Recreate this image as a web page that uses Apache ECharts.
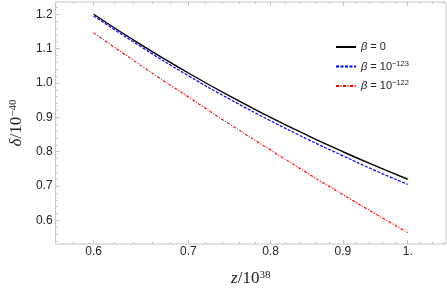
<!DOCTYPE html>
<html><head><meta charset="utf-8">
<script src="https://cdn.jsdelivr.net/npm/echarts@6/dist/echarts.min.js"></script>
<style>html,body{margin:0;padding:0;background:#fff}#c{width:447px;height:292px}</style>
</head><body><div id="c"></div>
<script>
// data
const zValues = [0.6, 0.65, 0.7, 0.75, 0.8, 0.85, 0.9, 0.95, 1.0];
const beta0 = [1.200, 1.108, 1.029, 0.960, 0.900, 0.847, 0.800, 0.758, 0.720];
const beta123 = [1.195, 1.102, 1.021, 0.951, 0.890, 0.836, 0.788, 0.744, 0.705];
const beta122 = [1.146, 1.047, 0.959, 0.878, 0.805, 0.737, 0.675, 0.618, 0.565];
const seriesNames = ['β = 0', 'β = 10−123', 'β = 10−122'];
const xMajorTicks = [0.6, 0.7, 0.8, 0.9, 1.0];
const xMinorTicks = [0.58, 0.62, 0.64, 0.66, 0.68, 0.72, 0.74, 0.76, 0.78, 0.82, 0.84, 0.86, 0.88, 0.92, 0.94, 0.96, 0.98, 1.02, 1.04, 1.06];
const yMajorTicks = [0.6, 0.7, 0.8, 0.9, 1.0, 1.1, 1.2];
const yMinorTicks = [0.54, 0.56, 0.58, 0.62, 0.64, 0.66, 0.68, 0.72, 0.74, 0.76, 0.78, 0.82, 0.84, 0.86, 0.88, 0.92, 0.94, 0.96, 0.98, 1.02, 1.04, 1.06, 1.08, 1.12, 1.14, 1.16, 1.18, 1.22];

const X_MIN = 0.564, X_MAX = 1.0642, Y_MIN = 0.5316, Y_MAX = 1.2356;
const tickColor = '#c4c4c4';
const labelFont = 'Liberation Sans';

function zip(xs, ys) { return xs.map((x, i) => [x, ys[i]]); }

function xAxisBase(extra) {
  return Object.assign({
    type: 'log', logBase: 10, min: X_MIN, max: X_MAX,
    axisLine: { show: false }, splitLine: { show: false }, minorTick: { show: false },
    axisLabel: { show: false }
  }, extra);
}
function yAxisBase(extra) {
  return Object.assign({
    type: 'value', min: Y_MIN, max: Y_MAX,
    axisLine: { show: false }, splitLine: { show: false }, minorTick: { show: false },
    axisLabel: { show: false }
  }, extra);
}

const chart = echarts.init(document.getElementById('c'), null, { renderer: 'canvas' });
chart.setOption({
  animation: false,
  backgroundColor: '#fff',
  grid: { left: 46, right: 1, top: 2, bottom: 43, show: true, borderColor: tickColor, borderWidth: 1, backgroundColor: 'transparent' },
  xAxis: [
    xAxisBase({
      position: 'bottom',
      name: '{i|z}/10{s|38}', nameLocation: 'middle', nameGap: 26,
      nameTextStyle: {
        fontFamily: 'Liberation Serif', fontSize: 17, color: '#222',
        rich: { i: { fontFamily: 'Liberation Serif', fontStyle: 'italic', fontSize: 17, color: '#222' },
                s: { fontFamily: 'Liberation Serif', fontSize: 11, verticalAlign: 'top', lineHeight: 10, color: '#222' } }
      },
      axisTick: { show: true, inside: true, length: 4, customValues: xMajorTicks, lineStyle: { color: tickColor } },
      axisLabel: { show: true, customValues: xMajorTicks, margin: 2, fontFamily: labelFont, fontSize: 12, color: '#222',
        formatter: v => (Math.abs(v - 1) < 1e-9 ? '1.' : Number(v).toFixed(1)) }
    }),
    xAxisBase({ position: 'bottom', axisTick: { show: true, inside: true, length: 2, customValues: xMinorTicks, lineStyle: { color: tickColor } } }),
    xAxisBase({ position: 'top', axisTick: { show: true, inside: true, length: 4, customValues: xMajorTicks, lineStyle: { color: tickColor } } }),
    xAxisBase({ position: 'top', axisTick: { show: true, inside: true, length: 2, customValues: xMinorTicks, lineStyle: { color: tickColor } } })
  ],
  yAxis: [
    yAxisBase({
      position: 'left',
      name: '{i|δ}/10{s|−40}', nameLocation: 'middle', nameGap: 22, nameRotate: 90,
      nameTextStyle: {
        fontFamily: 'Liberation Serif', fontSize: 17, color: '#222',
        rich: { i: { fontFamily: 'Liberation Serif', fontStyle: 'italic', fontSize: 17, color: '#222' },
                s: { fontFamily: 'Liberation Serif', fontSize: 11, verticalAlign: 'top', lineHeight: 10, color: '#222' } }
      },
      axisTick: { show: true, inside: true, length: 4, customValues: yMajorTicks, lineStyle: { color: tickColor } },
      axisLabel: { show: true, customValues: yMajorTicks, margin: 3, fontFamily: labelFont, fontSize: 12, color: '#222',
        formatter: v => Number(v).toFixed(1) }
    }),
    yAxisBase({ position: 'left', axisTick: { show: true, inside: true, length: 2, customValues: yMinorTicks, lineStyle: { color: tickColor } } })
  ],
  legend: {
    orient: 'vertical', left: 330, top: 35,
    itemWidth: 20, itemHeight: 14, itemGap: 5.5, itemTextGap: 4,
    data: seriesNames,
    itemStyle: { color: 'transparent', borderColor: 'transparent', borderWidth: 0, opacity: 0 },
    formatter: name => name.replace('β', '{i|β}').replace(/10(−\d+)/, '10{s|$1}'),
    textStyle: {
      fontFamily: labelFont, fontSize: 11, color: '#222', lineHeight: 14,
      rich: { i: { fontFamily: labelFont, fontStyle: 'italic', fontSize: 11, lineHeight: 14, color: '#222' },
              s: { fontFamily: labelFont, fontSize: 7.5, lineHeight: 8, verticalAlign: 'top', color: '#222' } }
    }
  },
  series: [
    { name: seriesNames[0], type: 'line', data: zip(zValues, beta0), smooth: true, symbol: 'none',
      lineStyle: { color: '#000', width: 1.4, type: 'solid' }, itemStyle: { color: '#000' } },
    { name: seriesNames[1], type: 'line', data: zip(zValues, beta123), smooth: true, symbol: 'none',
      lineStyle: { color: '#0000ff', width: 1.2, type: [3, 1.5] }, itemStyle: { color: '#0000ff' } },
    { name: seriesNames[2], type: 'line', data: zip(zValues, beta122), smooth: true, symbol: 'none',
      lineStyle: { color: '#ff0000', width: 1.1, type: [3, 1.5, 1, 1.5] }, itemStyle: { color: '#ff0000' } }
  ]
});
</script>
</body></html>
